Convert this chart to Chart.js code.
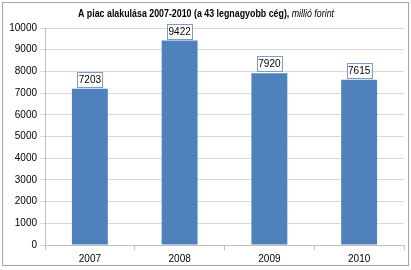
<!DOCTYPE html>
<html>
<head>
<meta charset="utf-8">
<script src="https://cdn.jsdelivr.net/npm/chart.js@4"></script>
<style>
  html, body { margin: 0; padding: 0; background: #fff; }
  #keret { position: relative; width: 411px; height: 270px; }
  #szegely {
    position: absolute; left: 2px; top: 2px; width: 405px; height: 262px;
    border: 1px solid #a6a6a6; pointer-events: none;
  }
</style>
</head>
<body>
<div id="keret">
  <canvas id="grafikon" width="411" height="270"></canvas>
  <div id="szegely"></div>
</div>
<script>
// ============ Adatok ============
const evek = ['2007', '2008', '2009', '2010'];
const ertekek = [7203, 9422, 7920, 7615];
const cimFelkover = 'A piac alakulása 2007-2010 (a 43 legnagyobb cég),';
const cimDolt = ' millió forint';

const betu = "'Liberation Sans', Arial, sans-serif";

// ============ Cim kirajzolasa (felkover + dolt resz, kicsit szukitve) ============
const cimPlugin = {
  id: 'cim',
  afterDraw(chart) {
    const ctx = chart.ctx;
    ctx.save();
    ctx.textBaseline = 'middle';
    ctx.textAlign = 'left';
    ctx.fillStyle = '#000';
    ctx.font = 'bold 10.5px ' + betu;
    const w1 = ctx.measureText(cimFelkover).width;
    ctx.font = 'italic 10.5px ' + betu;
    const w2 = ctx.measureText(cimDolt).width;
    const k = Math.min(1, 256 / (w1 + w2));
    ctx.translate(206 - (w1 + w2) * k / 2, 14);
    ctx.scale(k, 1);
    ctx.font = 'bold 10.5px ' + betu;
    ctx.fillText(cimFelkover, 0, 0);
    ctx.font = 'italic 10.5px ' + betu;
    ctx.fillText(cimDolt, w1, 0);
    ctx.restore();
  }
};

// ============ Ertekcimkek keretben az oszlopok felett ============
const cimkePlugin = {
  id: 'cimkek',
  afterDatasetsDraw(chart) {
    const ctx = chart.ctx;
    const meta = chart.getDatasetMeta(0);
    ctx.save();
    ctx.font = '10px ' + betu;
    ctx.textAlign = 'center';
    ctx.textBaseline = 'middle';
    meta.data.forEach((bar, i) => {
      const szoveg = String(ertekek[i]);
      const w = Math.round(ctx.measureText(szoveg).width + 3);
      const h = 15;
      const bx = Math.round(bar.x - w / 2) + 0.5;
      const by = Math.round(bar.y - 2 - h) + 0.5;
      ctx.fillStyle = '#fff';
      ctx.fillRect(bx, by, w, h);
      ctx.strokeStyle = '#7f9cc4';
      ctx.lineWidth = 1;
      ctx.strokeRect(bx, by, w, h);
      ctx.fillStyle = '#000';
      ctx.fillText(szoveg, bar.x, by + h / 2 + 0.5);
    });
    ctx.restore();
  }
};

new Chart(document.getElementById('grafikon'), {
  type: 'bar',
  data: {
    labels: evek,
    datasets: [{
      data: ertekek,
      backgroundColor: '#4f81bd',
      borderWidth: 0,
      barPercentage: 0.4,
      categoryPercentage: 1
    }]
  },
  options: {
    responsive: false,
    animation: false,
    layout: { padding: { left: 0, right: 7, top: 28, bottom: 0 } },
    plugins: {
      legend: { display: false },
      tooltip: { enabled: false }
    },
    scales: {
      x: {
        offset: true,
        grid: {
          offset: true,
          drawOnChartArea: false,
          drawTicks: true,
          tickLength: 5,
          color: '#bfbfbf'
        },
        border: { color: '#bfbfbf' },
        ticks: { color: '#000', padding: 3, font: { family: betu, size: 10 } },
        afterFit(s) { s.height = 25; }
      },
      y: {
        min: 0,
        max: 10000,
        grid: { color: '#d9d9d9', tickLength: 5 },
        border: { color: '#bfbfbf' },
        ticks: {
          stepSize: 1000,
          color: '#000',
          padding: 3,
          font: { family: betu, size: 10 },
          callback: (v) => String(v)
        },
        afterFit(s) { s.width = 45; }
      }
    }
  },
  plugins: [cimPlugin, cimkePlugin]
});
</script>
</body>
</html>
